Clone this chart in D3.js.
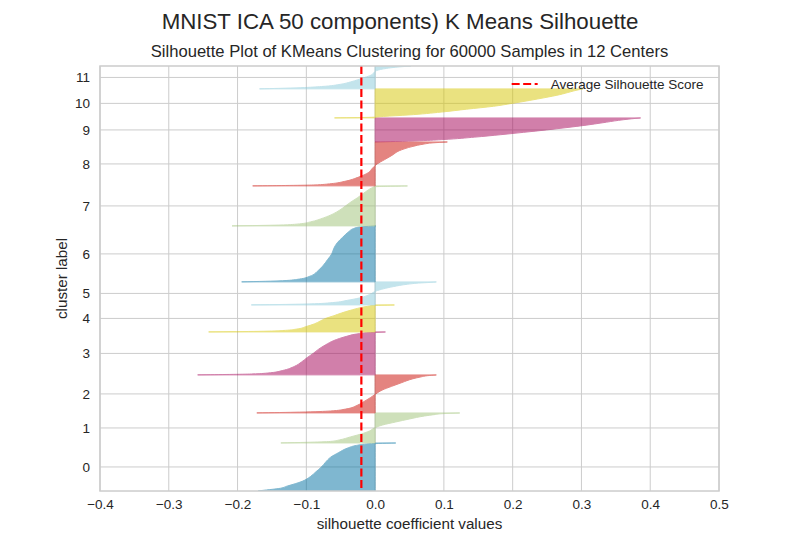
<!DOCTYPE html>
<html>
<head>
<meta charset="utf-8">
<script src="https://cdn.jsdelivr.net/npm/d3@7"></script>
<style>
  body { margin: 0; background: #fff; }
  text { font-family: "Liberation Sans", Arial, sans-serif; fill: #262626; }
</style>
</head>
<body>
<svg id="chart" width="800" height="550"></svg>
<script>
// cluster sizes (sum = 60000)
const clusterLabels = [0, 1, 2, 3, 4, 5, 6, 7, 8, 9, 10, 11];
const clusterSizes = [6780, 4240, 5370, 6070, 3810, 3250, 7910, 5650, 6210, 3390, 4100, 3220];
// fraction of the (sorted) cluster at which each value was read
const quantiles = [0, 0.02, 0.05, 0.1, 0.2, 0.3, 0.4, 0.5, 0.6, 0.7, 0.8, 0.9, 0.95, 0.98, 1];
const clusterSilhouettes = [
  [-0.170, -0.158, -0.140, -0.128, -0.106, -0.094, -0.086, -0.078, -0.072, -0.065, -0.053, -0.039, -0.027, -0.012, 0.030],
  [-0.137, -0.100, -0.065, -0.052, -0.036, -0.020, -0.008, -0.001, 0.011, 0.030, 0.050, 0.072, 0.088, 0.100, 0.123],
  [-0.172, -0.110, -0.065, -0.043, -0.026, -0.016, -0.007, 0.001, 0.010, 0.024, 0.039, 0.055, 0.067, 0.076, 0.089],
  [-0.258, -0.180, -0.152, -0.135, -0.117, -0.107, -0.099, -0.090, -0.082, -0.072, -0.060, -0.041, -0.028, -0.013, 0.015],
  [-0.242, -0.170, -0.135, -0.115, -0.100, -0.088, -0.080, -0.072, -0.060, -0.049, -0.036, -0.021, -0.011, -0.003, 0.028],
  [-0.180, -0.130, -0.088, -0.062, -0.040, -0.023, -0.012, -0.005, 0.001, 0.012, 0.027, 0.047, 0.063, 0.080, 0.089],
  [-0.194, -0.135, -0.110, -0.095, -0.083, -0.075, -0.069, -0.063, -0.060, -0.055, -0.047, -0.038, -0.032, -0.023, 0.001],
  [-0.208, -0.140, -0.110, -0.094, -0.075, -0.061, -0.051, -0.043, -0.035, -0.026, -0.018, -0.010, -0.005, -0.001, 0.047],
  [-0.178, -0.090, -0.064, -0.045, -0.024, -0.010, -0.004, 0.003, 0.014, 0.025, 0.035, 0.055, 0.070, 0.084, 0.105],
  [0.000, 0.030, 0.065, 0.100, 0.145, 0.182, 0.216, 0.249, 0.279, 0.307, 0.331, 0.354, 0.368, 0.378, 0.386],
  [-0.059, -0.005, 0.012, 0.048, 0.096, 0.133, 0.172, 0.199, 0.224, 0.247, 0.268, 0.284, 0.292, 0.298, 0.302],
  [-0.168, -0.140, -0.108, -0.078, -0.050, -0.036, -0.025, -0.015, -0.006, -0.002, 0.002, 0.017, 0.030, 0.042, 0.052]
];
const avgScore = -0.02;
const xTicks = [-0.4, -0.3, -0.2, -0.1, 0.0, 0.1, 0.2, 0.3, 0.4, 0.5];
const palette = ["#0272a2", "#9fc377", "#ca0b03", "#a50258", "#d7c703", "#88cada"];

const svg = d3.select("#chart"),
      margin = {top: 66, right: 81, bottom: 59, left: 100},
      width = +svg.attr("width") - margin.left - margin.right,
      height = +svg.attr("height") - margin.top - margin.bottom;

const n = d3.sum(clusterSizes), k = clusterSizes.length;
const x = d3.scaleLinear().domain([-0.4, 0.5]).range([0, width]);
const y = d3.scaleLinear().domain([0, n + (k + 1) * 10]).range([height, 0]);

const g = svg.append("g").attr("transform", `translate(${margin.left},${margin.top})`);

// stack clusters like yellowbrick: 10 sample gap between each
let yLower = 10;
const clusters = clusterLabels.map((label, i) => {
  const c = {label, lower: yLower, size: clusterSizes[i], values: clusterSilhouettes[i]};
  c.mid = yLower + 0.5 * c.size;
  yLower += c.size + 10;
  return c;
});

// grid
g.append("g").selectAll("line").data(xTicks).enter().append("line")
  .attr("x1", d => x(d)).attr("x2", d => x(d))
  .attr("y1", 0).attr("y2", height)
  .attr("stroke", "#cccccc").attr("stroke-width", 1);
g.append("g").selectAll("line").data(clusters).enter().append("line")
  .attr("x1", 0).attr("x2", width)
  .attr("y1", d => y(d.mid)).attr("y2", d => y(d.mid))
  .attr("stroke", "#cccccc").attr("stroke-width", 1);

// silhouettes
const area = d3.area()
  .x0(x(0))
  .x1(d => x(d.v))
  .y(d => y(d.y))
  .curve(d3.curveMonotoneY);

g.append("defs").append("clipPath").attr("id", "clip")
  .append("rect").attr("width", width).attr("height", height);

g.append("g").attr("clip-path", "url(#clip)")
  .selectAll("path").data(clusters).enter().append("path")
  .attr("d", c => area(c.values.map((v, j) => ({v, y: c.lower + quantiles[j] * c.size}))))
  .attr("fill", (c, i) => palette[i % palette.length])
  .attr("stroke", (c, i) => palette[i % palette.length])
  .attr("stroke-width", 1)
  .attr("opacity", 0.5);

// average line
g.append("line")
  .attr("x1", x(avgScore)).attr("x2", x(avgScore))
  .attr("y1", 0).attr("y2", height)
  .attr("stroke", "red").attr("stroke-width", 2.2)
  .attr("stroke-dasharray", "8,3.5");

// frame
g.append("rect").attr("width", width).attr("height", height)
  .attr("fill", "none").attr("stroke", "#cccccc").attr("stroke-width", 1.5);

// axes
const fmt = d => (d < 0 ? "\u2212" : "") + Math.abs(d).toFixed(1);
const xAxis = g.append("g").attr("transform", `translate(0,${height})`)
  .call(d3.axisBottom(x).tickValues(xTicks).tickFormat(fmt).tickSize(0).tickPadding(8));
const yAxis = g.append("g")
  .call(d3.axisLeft(y).tickValues(clusters.map(c => c.mid))
    .tickFormat((d, i) => clusterLabels[i]).tickSize(0).tickPadding(10));
[xAxis, yAxis].forEach(a => {
  a.select(".domain").remove();
  a.selectAll("text").style("font-size", "13.5px").attr("fill", "#262626");
});

// labels
svg.append("text").attr("x", margin.left + width / 2).attr("y", 529)
  .attr("text-anchor", "middle").style("font-size", "15.2px").text("silhouette coefficient values");
svg.append("text").attr("transform", `translate(67,${margin.top + height / 2}) rotate(-90)`)
  .attr("text-anchor", "middle").style("font-size", "15.2px").text("cluster label");
svg.append("text").attr("x", margin.left + width / 2).attr("y", 57)
  .attr("text-anchor", "middle").style("font-size", "16.6px")
  .text("Silhouette Plot of KMeans Clustering for 60000 Samples in 12 Centers");
svg.append("text").attr("x", 400).attr("y", 29)
  .attr("text-anchor", "middle").style("font-size", "22.3px")
  .text("MNIST ICA 50 components) K Means Silhouette");

// legend
const legend = g.append("g").attr("transform", `translate(${x(0.2) - 1},18)`);
legend.append("line").attr("x1", 0).attr("x2", 26)
  .attr("stroke", "red").attr("stroke-width", 2.2).attr("stroke-dasharray", "8,3.5");
legend.append("text").attr("x", 39).attr("y", 5)
  .style("font-size", "13.5px").text("Average Silhouette Score");
</script>
</body>
</html>
